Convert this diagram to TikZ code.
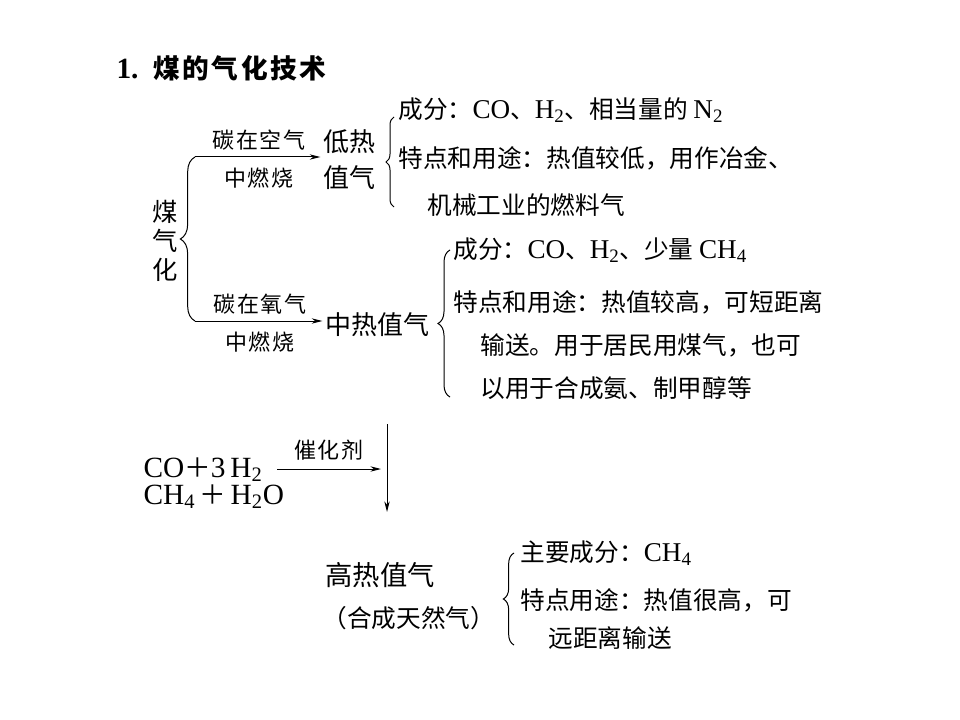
\documentclass[tikz,border=0pt]{standalone}
\usepackage{fontspec}
\setmainfont{Noto Sans CJK SC}
\newfontfamily\rmlat[Scale=1.1]{Liberation Serif}
\usetikzlibrary{arrows.meta,decorations.pathreplacing}
\newcommand{\chem}[1]{{\rmlat #1}}

\begin{document}
\begin{tikzpicture}[x=0.75pt, y=-0.75pt, line width=0.75pt,
    txt/.style={anchor=west, inner sep=0pt, font=\fontsize{18.5}{22}\selectfont},
    head/.style={anchor=west, inner sep=0pt, align=left, font=\fontsize{19.5}{27}\selectfont},
    lbl/.style={inner sep=0pt, font=\fontsize{16.5}{19}\selectfont\addfontfeature{LetterSpace=8}},
    brc/.style={decorate, decoration={brace, amplitude=#1}},
    arr/.style={-{Stealth[length=8pt, width=4pt]}}]

    \useasboundingbox (0,0) rectangle (960,720);

    \node[anchor=west, inner sep=0pt, font=\fontsize{20}{24}\selectfont\bfseries] (title) at (116,68) {\chem{\bfseries 1.}\hspace{11pt}\addfontfeature{LetterSpace=10}煤的气化技术};

    \node[inner sep=0pt, align=center, font=\fontsize{19}{21.75}\selectfont] (coal) at (165,241) {煤\\气\\化};
    \coordinate (b1top) at (195,157);
    \coordinate (b1bot) at (195,321);
    \draw[brc=11pt] (b1bot) -- (b1top);

    \node[head] (low) at (323,160) {低热\\值气};
    \node[head] (mid) at (325,325) {中热值气};
    \draw[arr, shorten >=2pt] (b1top) -- (b1top -| low.west)
        node[lbl, midway, yshift=13pt] (air) {碳在空气}
        node[lbl, midway, yshift=-16pt] (burn1) {中燃烧};
    \draw[arr, shorten >=2pt] (b1bot) -- (b1bot -| mid.west)
        node[lbl, midway, yshift=13pt] (oxy) {碳在氧气}
        node[lbl, midway, yshift=-16pt] (burn2) {中燃烧};

    \draw[brc=6pt] (394,207) -- (394,117);
    \node[txt] (lowa) at (398,110) {成分：\chem{CO}、\chem{H\textsubscript{2}}、相当量的 \chem{N\textsubscript{2}}};
    \node[txt] (lowb) at (398,158) {特点和用途：热值较低，用作冶金、};
    \node[txt] (lowc) at (427,205) {机械工业的燃料气};

    \draw[brc=9pt] (450,397) -- (450,250);
    \node[txt] (mida) at (453,250) {成分：\chem{CO}、\chem{H\textsubscript{2}}、少量 \chem{CH\textsubscript{4}}};
    \node[txt] (midb) at (453,302) {特点和用途：热值较高，可短距离};
    \node[txt] (midc) at (480,345) {输送。用于居民用煤气，也可};
    \node[txt] (midd) at (480,388) {以用于合成氨、制甲醇等};

    \node[txt, font=\fontsize{20}{24}\selectfont] (eqa) at (143,470) {\chem{CO}＋\chem{3\,H\textsubscript{2}}};
    \node[txt, font=\fontsize{20}{24}\selectfont] (eqb) at (143,497) {\chem{CH\textsubscript{4}}\,＋\,\chem{H\textsubscript{2}O}};
    \coordinate (cstart) at (277,469);
    \coordinate (cend) at (381,469);
    \coordinate (vtop) at (387,424);
    \coordinate (vbot) at (387,512);
    \draw[arr] (cstart) -- (cend) node[lbl, midway, yshift=14pt] (cat) {催化剂};
    \draw[arr] (vtop) -- (vbot);

    \node[head, font=\fontsize{20.5}{24}\selectfont] (high) at (325,575) {高热值气};
    \node[txt] (syn) at (322,618) {（合成天然气）};
    \draw[brc=8pt] (514,645) -- (514,553);
    \node[txt] (higha) at (520,553) {主要成分：\chem{CH\textsubscript{4}}};
    \node[txt] (highb) at (520,600) {特点用途：热值很高，可};
    \node[txt] (highc) at (548,638) {远距离输送};
\end{tikzpicture}
\end{document}
